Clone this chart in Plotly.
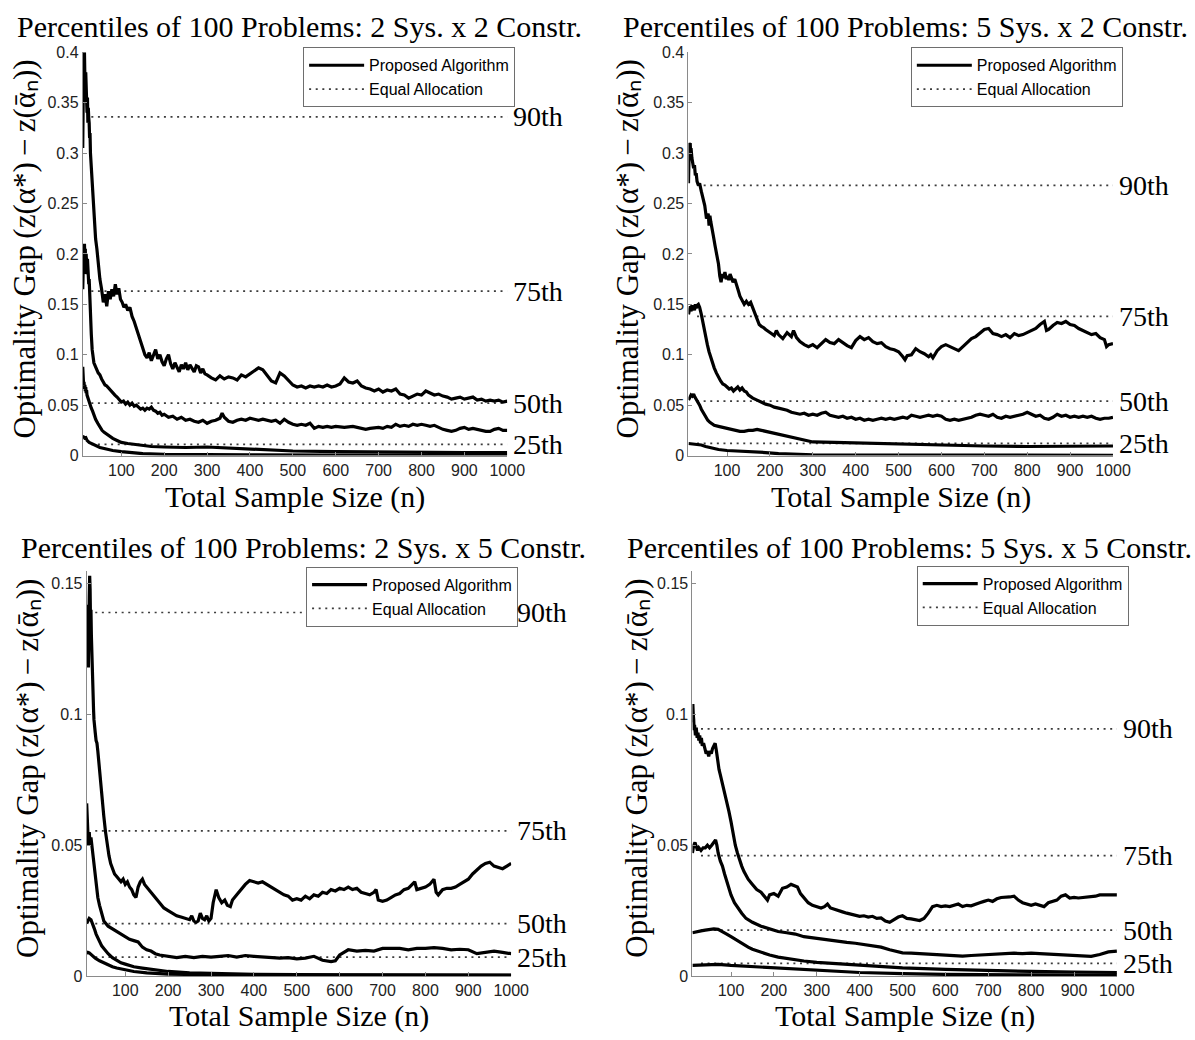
import plotly.graph_objects as go

# ---------------------------------------------------------------------------
# Percentile curves of the optimality gap versus total sample size n.
# Each curve is a list of (n, gap) pairs; equal-allocation levels are flat.
# ---------------------------------------------------------------------------

PERCENTILE_NAMES = ["90th", "75th", "50th", "25th"]

PANEL_TITLES = [
    "Percentiles of 100 Problems: 2 Sys. x 2 Constr.",
    "Percentiles of 100 Problems: 5 Sys. x 2 Constr.",
    "Percentiles of 100 Problems: 2 Sys. x 5 Constr.",
    "Percentiles of 100 Problems: 5 Sys. x 5 Constr.",
]

X_TICKS = [100, 200, 300, 400, 500, 600, 700, 800, 900, 1000]
Y_TICKS_2C = [0, 0.05, 0.1, 0.15, 0.2, 0.25, 0.3, 0.35, 0.4]
Y_LABELS_2C = ["0", "0.05", "0.1", "0.15", "0.2", "0.25", "0.3", "0.35", "0.4"]
Y_TICKS_5C = [0, 0.05, 0.1, 0.15]
Y_LABELS_5C = ["0", "0.05", "0.1", "0.15"]
Y_MAX_2C = 0.4
Y_MAX_5C = 0.155
N_RANGE = [10, 1000]

# Equal allocation (constant over n): 90th, 75th, 50th, 25th
EQUAL_N = [30, 1000]
EQUAL_2S2C = [0.336, 0.163, 0.052, 0.011]
EQUAL_5S2C = [0.268, 0.138, 0.054, 0.012]
EQUAL_2S5C = [0.139, 0.0555, 0.020, 0.0072]
EQUAL_5S5C = [0.0945, 0.046, 0.0175, 0.0048]

# ---------------- 2 Sys. x 2 Constr. ----------------
P90_2S2C = [
    (10, .305), (11, .36), (12, .395), (13, .37), (14, .40), (15, .385), (16, .35), (17, .38),
    (18, .345), (19, .37), (20, .34), (21, .355), (22, .33), (23, .345), (24, .335), (25, .33),
    (26, .315), (27, .32), (28, .30), (30, .285), (32, .265), (34, .25), (36, .235), (38, .225),
    (40, .215), (43, .205), (46, .19), (50, .175), (54, .165), (58, .152), (62, .16), (66, .148),
    (70, .163), (74, .155), (78, .165), (82, .158), (86, .17), (90, .16), (94, .166), (98, .155),
    (102, .152), (106, .147), (110, .15), (115, .144), (120, .147), (125, .138), (130, .133),
    (135, .126), (140, .12), (145, .113), (150, .107), (155, .10), (160, .097), (165, .102),
    (170, .094), (175, .10), (180, .105), (185, .096), (190, .10), (195, .093), (200, .089),
    (205, .096), (210, .10), (215, .091), (220, .086), (225, .092), (230, .088), (235, .083),
    (240, .09), (245, .086), (250, .092), (255, .085), (260, .09), (265, .087), (270, .083),
    (275, .089), (280, .088), (285, .082), (290, .086), (295, .081), (300, .08), (310, .077),
    (320, .075), (330, .079), (340, .076), (350, .078), (360, .077), (370, .075), (380, .08),
    (390, .078), (400, .081), (410, .084), (420, .087), (430, .085), (440, .079), (450, .074),
    (460, .072), (470, .082), (480, .079), (490, .074), (500, .07), (510, .068), (520, .069),
    (530, .067), (540, .069), (550, .068), (560, .069), (570, .068), (580, .07), (590, .068),
    (600, .069), (610, .071), (620, .077), (630, .073), (640, .072), (650, .074), (660, .069),
    (670, .067), (680, .066), (690, .064), (700, .066), (710, .063), (720, .065), (730, .064),
    (740, .066), (750, .061), (760, .06), (770, .057), (780, .059), (790, .061), (800, .06),
    (810, .064), (820, .062), (830, .06), (840, .061), (850, .059), (860, .058), (870, .056),
    (880, .057), (890, .058), (900, .056), (910, .057), (920, .058), (930, .055), (940, .056),
    (950, .054), (960, .055), (970, .054), (980, .055), (990, .053), (1000, .054),
]
P75_2S2C = [
    (10, .165), (11, .19), (12, .20), (13, .185), (14, .21), (15, .195), (16, .205), (17, .18),
    (18, .20), (19, .19), (20, .18), (21, .195), (22, .175), (23, .18), (24, .17), (25, .175),
    (26, .16), (27, .15), (28, .14), (30, .12), (32, .105), (34, .097), (36, .092), (38, .09),
    (40, .087), (43, .085), (46, .082), (50, .08), (54, .076), (58, .073), (62, .07), (66, .069),
    (70, .067), (75, .064), (80, .062), (85, .06), (90, .058), (95, .055), (100, .053),
    (105, .054), (110, .051), (115, .053), (120, .05), (125, .052), (130, .049), (135, .05),
    (140, .048), (145, .046), (150, .047), (155, .045), (160, .047), (165, .046), (170, .048),
    (175, .045), (180, .044), (185, .042), (190, .043), (195, .04), (200, .041), (210, .038),
    (220, .039), (230, .036), (240, .038), (250, .035), (260, .036), (270, .034), (280, .033),
    (290, .035), (300, .032), (310, .034), (320, .035), (330, .037), (335, .042), (340, .038),
    (350, .034), (360, .033), (370, .035), (380, .036), (390, .035), (400, .037), (410, .036),
    (420, .035), (430, .036), (440, .035), (450, .034), (460, .035), (470, .032), (480, .036),
    (490, .033), (500, .031), (510, .03), (520, .031), (530, .03), (540, .032), (550, .027),
    (560, .029), (570, .028), (580, .029), (590, .028), (600, .029), (620, .028), (640, .029),
    (660, .027), (670, .026), (680, .027), (700, .028), (710, .027), (720, .029), (730, .028),
    (740, .031), (750, .029), (760, .03), (770, .029), (780, .031), (790, .03), (800, .031),
    (810, .03), (820, .029), (830, .03), (840, .028), (850, .026), (860, .025), (870, .024),
    (880, .025), (890, .027), (900, .028), (910, .026), (920, .027), (930, .026), (940, .025),
    (950, .024), (960, .024), (970, .026), (980, .027), (990, .025), (1000, .025),
]
P50_2S2C = [
    (10, .088), (11, .075), (12, .07), (13, .073), (14, .066), (15, .07), (16, .064), (17, .068),
    (18, .062), (19, .065), (20, .06), (22, .057), (24, .055), (26, .052), (28, .05), (30, .047),
    (33, .044), (36, .04), (40, .036), (45, .032), (50, .028), (55, .025), (60, .023), (70, .02),
    (80, .017), (90, .015), (100, .013), (115, .012), (130, .011), (150, .01), (170, .009),
    (200, .0085), (250, .008), (300, .0085), (350, .0075), (400, .006), (450, .005), (500, .0045),
    (600, .004), (700, .0035), (800, .003), (900, .003), (1000, .003),
]
P25_2S2C = [
    (10, .02), (12, .017), (14, .019), (16, .016), (18, .017), (20, .015), (25, .013), (30, .012),
    (35, .011), (40, .01), (50, .008), (60, .007), (70, .006), (80, .005), (100, .004),
    (120, .003), (150, .002), (200, .0012), (300, .0008), (400, .0006), (600, .0005),
    (800, .0004), (1000, .0003),
]

# ---------------- 5 Sys. x 2 Constr. ----------------
P90_5S2C = [
    (10, .27), (11, .295), (12, .31), (13, .305), (14, .31), (15, .30), (16, .305), (18, .295),
    (20, .29), (22, .285), (24, .288), (26, .278), (28, .28), (30, .272), (33, .268), (36, .27),
    (40, .262), (44, .255), (48, .248), (52, .235), (56, .24), (58, .228), (60, .238), (62, .232),
    (65, .222), (68, .218), (72, .208), (76, .20), (80, .19), (83, .178), (86, .172), (89, .18),
    (92, .176), (95, .182), (98, .175), (101, .178), (104, .174), (107, .18), (110, .177),
    (114, .172), (118, .175), (122, .168), (126, .164), (130, .158), (135, .154), (140, .15),
    (145, .153), (150, .15), (155, .152), (160, .146), (165, .14), (170, .134), (175, .13),
    (180, .128), (185, .127), (190, .125), (195, .123), (200, .122), (210, .119), (215, .124),
    (220, .12), (230, .116), (240, .122), (250, .118), (255, .124), (262, .117), (270, .113),
    (280, .11), (290, .108), (300, .11), (310, .107), (320, .111), (330, .115), (340, .112),
    (350, .111), (360, .115), (370, .112), (380, .109), (390, .107), (400, .114), (410, .118),
    (420, .115), (430, .117), (440, .113), (450, .111), (460, .112), (470, .108), (480, .106),
    (490, .105), (500, .103), (510, .098), (515, .095), (520, .099), (530, .10), (540, .106),
    (550, .103), (560, .101), (570, .098), (575, .10), (580, .097), (590, .104), (600, .108),
    (610, .11), (620, .108), (630, .106), (640, .104), (650, .108), (660, .112), (670, .116),
    (680, .118), (690, .122), (700, .125), (710, .126), (720, .121), (730, .12), (740, .118),
    (750, .12), (760, .117), (770, .121), (780, .119), (790, .12), (800, .122), (810, .124),
    (820, .126), (830, .13), (840, .133), (845, .124), (850, .125), (860, .129), (870, .132),
    (880, .131), (890, .133), (900, .13), (910, .129), (920, .126), (930, .124), (940, .122),
    (950, .12), (960, .121), (970, .117), (980, .115), (985, .108), (990, .11), (1000, .111),
]
P75_5S2C = [
    (10, .14), (12, .145), (14, .148), (16, .143), (18, .149), (20, .145), (22, .148), (24, .144),
    (26, .15), (28, .146), (30, .149), (33, .15), (36, .147), (40, .14), (43, .133), (46, .125),
    (50, .117), (54, .11), (58, .103), (62, .097), (66, .092), (70, .087), (75, .082), (80, .077),
    (85, .074), (90, .071), (95, .07), (100, .068), (105, .066), (110, .067), (115, .064),
    (120, .066), (125, .068), (130, .065), (135, .067), (140, .064), (145, .063), (150, .06),
    (160, .057), (170, .055), (180, .053), (190, .051), (200, .05), (210, .048), (220, .047),
    (230, .046), (240, .045), (250, .043), (260, .042), (270, .041), (280, .042), (290, .04),
    (300, .041), (310, .04), (320, .042), (330, .043), (340, .04), (350, .039), (360, .038),
    (370, .039), (380, .037), (390, .038), (400, .036), (410, .037), (420, .035), (430, .036),
    (440, .035), (450, .036), (460, .037), (470, .036), (480, .037), (490, .036), (500, .037),
    (510, .038), (520, .037), (530, .04), (540, .039), (550, .038), (560, .039), (570, .04),
    (580, .039), (590, .04), (600, .039), (610, .036), (620, .035), (630, .036), (640, .035),
    (650, .036), (660, .037), (670, .038), (680, .04), (690, .041), (700, .04), (710, .039),
    (720, .041), (730, .038), (740, .037), (750, .039), (760, .038), (770, .039), (780, .04),
    (790, .041), (800, .043), (810, .041), (820, .039), (830, .04), (840, .037), (850, .036),
    (860, .038), (870, .041), (880, .039), (890, .04), (900, .038), (910, .039), (920, .038),
    (930, .039), (940, .038), (950, .039), (960, .037), (970, .036), (980, .037), (990, .037),
    (1000, .038),
]
P50_5S2C = [
    (10, .055), (13, .058), (16, .06), (19, .059), (22, .061), (25, .058), (28, .056), (32, .054),
    (36, .05), (40, .046), (45, .042), (50, .038), (55, .035), (60, .033), (65, .031), (70, .03),
    (80, .029), (90, .028), (100, .027), (110, .026), (120, .025), (130, .024), (140, .024),
    (150, .025), (160, .025), (170, .026), (180, .025), (190, .024), (200, .023), (210, .022),
    (220, .021), (230, .02), (240, .019), (250, .018), (260, .017), (270, .016), (280, .015),
    (290, .014), (300, .0135), (350, .013), (400, .0125), (450, .012), (500, .011), (550, .0105),
    (600, .0105), (700, .0095), (800, .009), (900, .009), (1000, .0095),
]
P25_5S2C = [
    (10, .012), (20, .0115), (30, .011), (40, .0105), (50, .009), (60, .008), (70, .007),
    (80, .006), (100, .005), (130, .0045), (160, .004), (190, .003), (220, .002), (260, .0015),
    (300, .0008), (400, .0005), (600, .0004), (1000, .0003),
]

# ---------------- 2 Sys. x 5 Constr. ----------------
P90_2S5C = [
    (10, .142), (11, .135), (12, .12), (13, .138), (14, .118), (15, .132), (16, .145), (17, .153),
    (18, .148), (19, .135), (20, .14), (21, .13), (22, .122), (23, .125), (24, .115), (25, .11),
    (26, .102), (27, .098), (28, .095), (30, .093), (32, .09), (34, .089), (36, .086), (38, .082),
    (40, .078), (43, .072), (46, .066), (50, .061), (54, .055), (58, .05), (62, .046), (66, .043),
    (70, .041), (75, .039), (80, .038), (85, .037), (90, .036), (95, .037), (100, .035),
    (105, .036), (110, .034), (115, .033), (120, .031), (125, .03), (130, .034), (135, .036),
    (140, .037), (145, .035), (150, .034), (160, .032), (170, .03), (180, .028), (190, .026),
    (200, .025), (210, .024), (220, .023), (230, .0225), (240, .022), (250, .0215), (255, .023),
    (260, .021), (265, .0205), (270, .021), (275, .024), (280, .022), (285, .0215), (290, .023),
    (295, .021), (300, .022), (305, .028), (312, .033), (318, .03), (325, .028), (332, .029),
    (338, .027), (345, .0265), (350, .029), (360, .031), (370, .033), (380, .035), (390, .0365),
    (400, .036), (410, .0355), (420, .036), (430, .035), (440, .034), (450, .033), (460, .032),
    (470, .031), (480, .0305), (490, .029), (500, .0295), (510, .029), (520, .0305), (530, .0295),
    (540, .031), (550, .0305), (560, .032), (570, .0315), (580, .033), (590, .0325), (600, .0335),
    (610, .033), (620, .034), (630, .033), (640, .0335), (650, .032), (660, .0315), (670, .031),
    (680, .032), (685, .033), (690, .029), (700, .0285), (710, .029), (720, .03), (730, .031),
    (740, .0315), (750, .033), (760, .0335), (770, .035), (775, .036), (780, .033), (790, .0335),
    (800, .034), (810, .035), (820, .037), (825, .032), (830, .031), (840, .033), (850, .0335),
    (860, .0335), (870, .034), (880, .035), (890, .036), (900, .037), (910, .039), (920, .0405),
    (930, .042), (940, .043), (950, .0435), (960, .042), (970, .0415), (980, .041), (990, .042),
    (1000, .043),
]
P75_2S5C = [
    (10, .066), (12, .055), (14, .05), (16, .055), (18, .05), (20, .053), (22, .05), (25, .045),
    (28, .04), (32, .035), (36, .03), (40, .027), (45, .024), (50, .021), (60, .019), (70, .018),
    (80, .017), (90, .016), (100, .015), (110, .014), (120, .0135), (130, .013), (140, .011),
    (150, .01), (160, .0095), (170, .0085), (180, .008), (200, .0075), (220, .007), (240, .0075),
    (260, .007), (280, .0075), (300, .0072), (320, .0075), (340, .0078), (360, .0072),
    (380, .0078), (400, .0075), (420, .0072), (440, .007), (460, .0068), (480, .007),
    (500, .0065), (520, .0068), (540, .0075), (560, .006), (580, .0055), (590, .0058),
    (600, .008), (620, .01), (640, .0095), (660, .0098), (680, .0095), (700, .0105),
    (720, .0105), (740, .0105), (760, .01), (780, .0105), (800, .0105), (820, .0108),
    (840, .0105), (860, .01), (880, .0102), (900, .01), (920, .0085), (940, .009), (960, .0095),
    (980, .009), (1000, .0085),
]
P50_2S5C = [
    (10, .02), (13, .021), (16, .022), (20, .0215), (24, .02), (28, .018), (32, .016),
    (36, .0145), (40, .013), (45, .0115), (50, .0105), (60, .0085), (70, .007), (80, .006),
    (90, .005), (100, .0045), (120, .0035), (140, .003), (160, .0025), (180, .002), (200, .0017),
    (250, .0012), (300, .0009), (400, .0006), (600, .0004), (1000, .0003),
]
P25_2S5C = [
    (10, .0085), (13, .009), (16, .0088), (20, .0082), (25, .0075), (30, .0068), (40, .0058),
    (50, .005), (60, .0042), (70, .0035), (80, .003), (100, .0022), (120, .0017), (150, .0012),
    (200, .0007), (300, .0004), (1000, .0002),
]

# ---------------- 5 Sys. x 5 Constr. ----------------
P90_5S5C = [
    (10, .097), (11, .104), (12, .10), (13, .098), (14, .094), (15, .096), (17, .092), (19, .095),
    (21, .091), (23, .093), (25, .09), (27, .092), (29, .089), (31, .091), (33, .088), (36, .089),
    (39, .087), (42, .085), (45, .086), (48, .084), (51, .086), (54, .085), (57, .087), (60, .088),
    (63, .089), (66, .086), (69, .082), (72, .079), (75, .077), (78, .075), (81, .073), (85, .07),
    (90, .067), (95, .063), (100, .059), (105, .054), (110, .05), (115, .047), (120, .044),
    (125, .042), (130, .04), (140, .037), (150, .035), (160, .033), (170, .032), (180, .03),
    (185, .029), (190, .031), (200, .0315), (205, .031), (210, .0305), (215, .032), (220, .0335),
    (230, .034), (240, .035), (248, .0345), (255, .034), (262, .0315), (270, .03), (280, .028),
    (290, .027), (300, .0265), (310, .026), (318, .0265), (325, .0275), (332, .026), (340, .0255),
    (350, .025), (360, .0245), (370, .024), (380, .0235), (390, .023), (400, .0228), (410, .023),
    (420, .0225), (430, .0228), (440, .022), (450, .0222), (460, .021), (470, .0205),
    (480, .0215), (490, .0225), (500, .023), (510, .022), (520, .0218), (530, .0215),
    (540, .0212), (550, .022), (560, .024), (570, .0265), (580, .027), (590, .0265),
    (600, .0268), (610, .0265), (620, .027), (630, .0275), (640, .0265), (650, .027),
    (660, .0268), (670, .0275), (680, .028), (690, .0285), (700, .029), (710, .0285),
    (720, .0295), (730, .03), (740, .03), (750, .0302), (760, .0305), (770, .029), (780, .028),
    (790, .0275), (800, .027), (810, .0275), (820, .027), (830, .0265), (840, .028), (850, .0285),
    (860, .029), (870, .0305), (880, .031), (890, .0298), (900, .03), (910, .0298), (920, .03),
    (930, .03), (940, .0302), (950, .0305), (960, .031), (970, .031), (980, .0312), (990, .031),
    (1000, .031),
]
P75_5S5C = [
    (10, .047), (13, .05), (16, .051), (19, .049), (22, .048), (25, .049), (30, .048), (35, .049),
    (40, .049), (45, .05), (50, .049), (55, .05), (60, .051), (64, .052), (67, .05), (70, .047),
    (75, .044), (80, .042), (85, .039), (90, .036), (95, .034), (100, .031), (108, .028),
    (116, .026), (125, .024), (135, .022), (150, .0205), (170, .019), (190, .018), (210, .017),
    (230, .0165), (250, .016), (270, .015), (290, .0145), (310, .014), (330, .0135), (350, .013),
    (370, .0128), (390, .0125), (410, .012), (430, .0115), (450, .011), (470, .01), (490, .0092),
    (500, .0088), (520, .0087), (540, .0085), (560, .0082), (580, .008), (600, .0078),
    (620, .0078), (640, .0076), (660, .0078), (680, .008), (700, .0082), (720, .0083),
    (740, .0085), (760, .0087), (780, .0085), (800, .0087), (820, .0085), (840, .0083),
    (860, .0082), (880, .008), (900, .0078), (920, .0076), (940, .0075), (960, .0082),
    (980, .0092), (1000, .0095),
]
P50_5S5C = [
    (10, .0165), (20, .017), (30, .0172), (40, .0175), (50, .0178), (60, .018), (70, .0178),
    (80, .017), (90, .016), (100, .015), (110, .014), (120, .0128), (130, .0118), (140, .011),
    (150, .0102), (170, .009), (190, .008), (210, .0072), (240, .0063), (270, .0057),
    (300, .0052), (350, .0046), (400, .004), (450, .0035), (500, .0031), (600, .0025),
    (700, .002), (800, .0017), (900, .0015), (1000, .0013),
]
P25_5S5C = [
    (10, .004), (30, .0042), (50, .0045), (70, .0044), (100, .004), (150, .0035), (200, .003),
    (250, .0025), (300, .002), (400, .0013), (500, .0009), (600, .0006), (800, .0004),
    (1000, .0003),
]

# ---------------------------------------------------------------------------
# Layout (pixel boxes of the four plot areas: left, right, top, bottom)
# ---------------------------------------------------------------------------
W, H = 1195, 1040
SERIF = "Liberation Serif"
SANS = "Liberation Sans"

panels = [
    dict(box=(84, 515, 45, 455), ymax=Y_MAX_2C, yt=(Y_TICKS_2C, Y_LABELS_2C),
         curves=[P90_2S2C, P75_2S2C, P50_2S2C, P25_2S2C], equal=EQUAL_2S2C,
         legend_corner=(523, 40), title_y=19, xlab_y=497, ylab_x=25),
    dict(box=(699, 1130, 45, 455), ymax=Y_MAX_2C, yt=(Y_TICKS_2C, Y_LABELS_2C),
         curves=[P90_5S2C, P75_5S2C, P50_5S2C, P25_5S2C], equal=EQUAL_5S2C,
         legend_corner=(1140, 40), title_y=19, xlab_y=497, ylab_x=638),
    dict(box=(88, 519, 572, 984), ymax=Y_MAX_5C, yt=(Y_TICKS_5C, Y_LABELS_5C),
         curves=[P90_2S5C, P75_2S5C, P50_2S5C, P25_2S5C], equal=EQUAL_2S5C,
         legend_corner=(526, 568), title_y=548, xlab_y=1025, ylab_x=28),
    dict(box=(703, 1134, 572, 984), ymax=Y_MAX_5C, yt=(Y_TICKS_5C, Y_LABELS_5C),
         curves=[P90_5S5C, P75_5S5C, P50_5S5C, P25_5S5C], equal=EQUAL_5S5C,
         legend_corner=(1146, 567), title_y=548, xlab_y=1025, ylab_x=646),
]


def fx(p):
    return p / W


def fy(p):
    return 1 - p / H


YLABEL = "Optimality Gap\u2009(z(α*)\u2009−\u2009z(ᾱₙ))"

fig = go.Figure()
layout = dict(
    width=W, height=H, margin=dict(l=0, r=0, t=0, b=0),
    paper_bgcolor="white", plot_bgcolor="white", showlegend=True,
)
annotations = []

for i, p in enumerate(panels):
    k = "" if i == 0 else str(i + 1)
    xa, ya = "x" + k, "y" + k
    leg = "legend" + k
    left, right, top, bottom = p["box"]

    # equal-allocation reference levels (drawn first so curves sit on top)
    for j, level in enumerate(p["equal"]):
        fig.add_trace(go.Scatter(
            x=EQUAL_N, y=[level, level], mode="lines", xaxis=xa, yaxis=ya,
            line=dict(color="#3c3c3c", width=1.7, dash="2px,4.6px"),
            name="Equal Allocation", legend=leg, legendrank=2,
            showlegend=(j == 0), hoverinfo="skip",
        ))
    # proposed-algorithm percentile curves
    for j, curve in enumerate(p["curves"]):
        fig.add_trace(go.Scatter(
            x=[c[0] for c in curve], y=[c[1] for c in curve], mode="lines",
            xaxis=xa, yaxis=ya, line=dict(color="black", width=3.2),
            name="Proposed Algorithm", legend=leg, legendrank=1,
            showlegend=(j == 0),
        ))

    axis_common = dict(
        showline=True, linecolor="#8a8a8a", linewidth=1, ticks="inside",
        ticklen=4, tickcolor="#8a8a8a", showgrid=False, zeroline=False,
        tickfont=dict(family=SANS, size=16, color="#222222"), mirror=False,
    )
    layout["xaxis" + k] = dict(
        axis_common, domain=[fx(left), fx(right)], range=N_RANGE, anchor=ya,
        tickvals=X_TICKS, ticktext=[str(v) for v in X_TICKS],
    )
    layout["yaxis" + k] = dict(
        axis_common, domain=[fy(bottom), fy(top)], range=[0, p["ymax"]],
        anchor=xa, tickvals=p["yt"][0], ticktext=p["yt"][1],
    )
    lx, ly = p["legend_corner"]
    layout[leg] = dict(
        x=fx(lx), y=fy(ly), xanchor="right", yanchor="top",
        bgcolor="white", bordercolor="#6e6e6e", borderwidth=1,
        font=dict(family=SANS, size=16, color="black"),
        tracegroupgap=0, itemwidth=55,
    )

    cx = (left + right) / 2
    annotations.append(dict(
        text=PANEL_TITLES[i], x=fx(cx + 5), y=fy(p["title_y"]), xref="paper",
        yref="paper", showarrow=False, xanchor="center", yanchor="middle",
        font=dict(family=SERIF, size=30, color="black"),
    ))
    annotations.append(dict(
        text="Total Sample Size (n)", x=fx(cx), y=fy(p["xlab_y"]),
        xref="paper", yref="paper", showarrow=False, xanchor="center",
        yanchor="middle", font=dict(family=SERIF, size=30, color="black"),
    ))
    annotations.append(dict(
        text=YLABEL, x=fx(p["ylab_x"]), y=fy((top + bottom) / 2 - 5),
        xref="paper", yref="paper", showarrow=False, textangle=-90,
        xanchor="center", yanchor="middle",
        font=dict(family=SERIF, size=31, color="black"),
    ))
    for name, level in zip(PERCENTILE_NAMES, p["equal"]):
        annotations.append(dict(
            text=name, x=N_RANGE[1], y=level, xref=xa, yref=ya,
            showarrow=False, xanchor="left", yanchor="middle", xshift=4,
            font=dict(family=SERIF, size=28, color="black"),
        ))

layout["annotations"] = annotations
fig.update_layout(**layout)
fig.write_html("out.html")
